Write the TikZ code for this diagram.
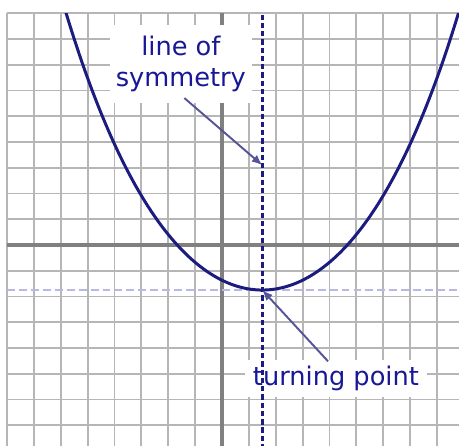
\documentclass[tikz,border=0pt]{standalone}
\usepackage{fontspec}
\setmainfont{DejaVu Sans}
\usetikzlibrary{arrows.meta}
\definecolor{navy}{RGB}{28,28,128}
\definecolor{labelblue}{RGB}{24,24,150}
\definecolor{pointerblue}{RGB}{84,84,150}
\definecolor{gridgray}{RGB}{182,182,182}
\definecolor{axisgray}{RGB}{128,128,128}
\definecolor{lilac}{RGB}{184,184,228}

\begin{document}
\begin{tikzpicture}[x=0.5375cm, y=0.515cm,
  gridline/.style={gridgray, line width=1.1pt},
  axisline/.style={axisgray, line width=2.3pt},
  lbl/.style={fill=white, text=labelblue, align=center, inner sep=0pt,
    font=\fontsize{14.6}{17.6}\selectfont},
  pointer/.style={pointerblue, line width=1.1pt, -{Latex[length=6pt,width=5pt]}}]
  \useasboundingbox (-8.26,-7.81) rectangle (8.82,9.515);
  % squared paper
  \foreach \i in {-8,...,8}
    \draw[gridline] (\i,-7.81) -- (\i,9);
  \foreach \j in {-7,...,9}
    \draw[gridline] (-8,\j) -- (8.82,\j);
  \draw[axisline] (-8,0) -- (8.82,0);
  \draw[axisline] (0,-7.81) -- (0,9);
  % labels
  \node[lbl, minimum width=2.84cm, minimum height=1.56cm] (sym) at (-1.53,7.03) {line of\\symmetry};
  \node[lbl, minimum width=3.64cm, minimum height=0.74cm] (turn) at (4.24,-5.18) {turning point};
  % the curve
  \draw[lilac, line width=1.1pt, dash pattern=on 4.5pt off 2.3pt] (-8,-1.75) -- (8.82,-1.75);
  \begin{scope}
    \clip (-8.26,-7.81) rectangle (8.82,9);
    \draw[navy, line width=1.7pt] plot[domain=-5.9:8.9, samples=120, smooth]
      (\x, {-1.75+0.1685*(\x-1.5)*(\x-1.5)+0.00062*(\x-1.5)*(\x-1.5)*(\x-1.5)*(\x-1.5)});
  \end{scope}
  \draw[navy, line width=1.4pt, dash pattern=on 3pt off 1.7pt] (1.5,8.95) -- (1.5,-7.81);
  \coordinate (vertex) at (1.5,-1.75);
  \coordinate (symfoot) at (1.5,3.1);
  \draw[pointer] ([xshift=2pt,yshift=3pt]sym.south) -- (symfoot);
  \draw[pointer] ([xshift=-4.5pt,yshift=-1pt]turn.north) -- (vertex);
\end{tikzpicture}
\end{document}
